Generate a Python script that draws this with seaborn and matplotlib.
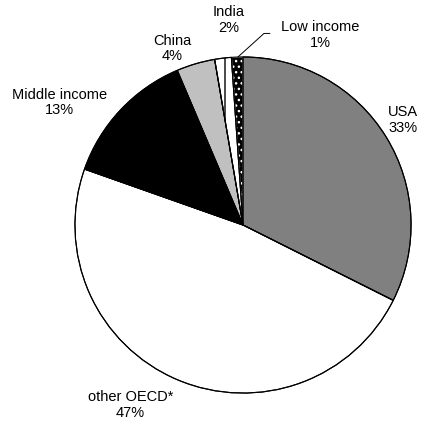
import matplotlib
matplotlib.use("Agg")
import matplotlib.pyplot as plt
import seaborn as sns

# Share of world total by region (wedge sizes, percent)
regions = ["USA", "other OECD*", "Middle income", "China", "India", "Low income"]
shares = [32.4, 48.0, 13.2, 3.7, 1.6, 1.1]
labels = ["USA\n33%", "other OECD*\n47%", "Middle income\n13%", "China\n4%", "India\n2%", "Low income\n1%"]

sns.set_theme(style="white")
plt.rcParams["font.family"] = ["Liberation Sans", "DejaVu Sans"]

fig = plt.figure(figsize=(4.25, 4.26), dpi=100)
ax = fig.add_axes([0, 0, 1, 1])

face = ["#808080", "white", "black", "#c0c0c0", "white", "black"]
wedges, _ = ax.pie(shares, colors=face, startangle=90, counterclock=False,
                   wedgeprops=dict(edgecolor="black", linewidth=0.8))
wedges[4].set_hatch("|")
# dotted fill for low income: white hatch, then outline on top
wedges[5].set_edgecolor("white")
wedges[5].set_hatch("...")
ax.pie(shares, colors=["none"] * len(shares), startangle=90, counterclock=False,
       wedgeprops=dict(edgecolor="black", linewidth=0.8, fill=False))

# label placement (Excel style, hand placed)
label_pos = [(0.95, 0.625), (-0.67, -1.07), (-1.09, 0.73),
             (-0.42, 1.05), (-0.083, 1.22), (0.46, 1.13)]
for lab, (x, y) in zip(labels, label_pos):
    ax.text(x, y, lab, ha="center", va="center", fontsize=10.5,
            linespacing=1.15, color="black")

# leader line for low income
ax.plot([0.16, 0.125, -0.03], [1.14, 1.14, 1.0], color="black", linewidth=0.7)

ax.set_xlim(-1.446, 1.083)
ax.set_ylim(-1.196, 1.339)
ax.set_aspect("equal")
ax.axis("off")

fig.savefig("out.png", dpi=100, facecolor="white")
